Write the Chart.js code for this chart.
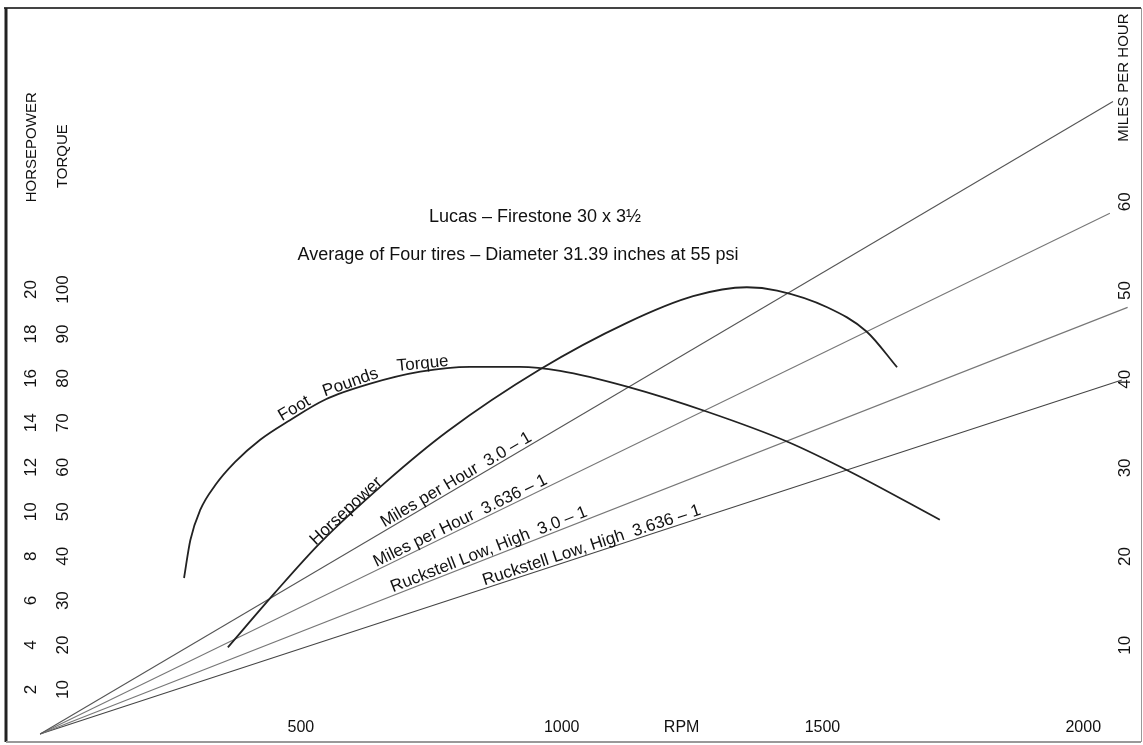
<!DOCTYPE html>
<html>
<head>
<meta charset="utf-8">
<script src="https://cdn.jsdelivr.net/npm/chart.js@4/dist/chart.umd.min.js"></script>
<style>
  html, body { margin: 0; padding: 0; background: #fff; }
</style>
</head>
<body>
<canvas id="chart" width="1143" height="745"></canvas>
<script>
// axis ticks
const rpmTicks = [500, 1000, 1230, 1500, 2000];
const rpmTickLabels = ['500', '1000', 'RPM', '1500', '2000'];
const hpTicks = [2, 4, 6, 8, 10, 12, 14, 16, 18, 20];
const torqueTicks = [10, 20, 30, 40, 50, 60, 70, 80, 90, 100];
const mphTicks = [10, 20, 30, 40, 50, 60];

// engine curves
const torqueRpm = [276, 288, 307, 336, 374, 422, 479, 546, 633, 729, 824, 920, 997, 1127, 1279, 1434, 1553, 1725];
const torqueFtLb = [35.1, 43.6, 50.4, 56.0, 61.2, 66.2, 70.6, 75.2, 78.8, 81.5, 82.6, 82.6, 81.7, 78.1, 72.5, 65.7, 59.0, 48.2];
const hpRpm = [360, 450, 537, 661, 780, 958, 1125, 1252, 1355, 1413, 1509, 1585, 1643];
const hpValues = [3.9, 6.35, 8.6, 11.3, 13.6, 16.4, 18.5, 19.7, 20.1, 19.95, 19.2, 18.1, 16.5];

// road speed lines
const mph30Rpm = [0, 2057];
const mph30 = [0, 71.3];
const mph3636Rpm = [0, 2051];
const mph3636 = [0, 58.7];
const ruck30Rpm = [0, 2085];
const ruck30 = [0, 48.1];
const ruck3636Rpm = [0, 2074];
const ruck3636 = [0, 39.9];

const xy = (xs, ys) => xs.map((x, i) => ({ x: x, y: ys[i] }));

const FONT = "'Liberation Sans', Arial, sans-serif";
const NARROW = "'Liberation Sans Narrow', 'Liberation Sans', Arial, sans-serif";
const INK = '#111';

const lineLabels = [
  { text: 'Foot', ds: 0, rpm: 495, lift: 3 },
  { text: 'Pounds', ds: 0, rpm: 600, lift: 3 },
  { text: 'Torque', ds: 0, rpm: 735, lift: 3 },
  { text: 'Horsepower', ds: 1, rpm: 594, lift: 1 },
  { text: 'Miles per Hour  3.0 – 1', ds: 2, rpm: 805, lift: 3 },
  { text: 'Miles per Hour  3.636 – 1', ds: 3, rpm: 812, lift: 3 },
  { text: 'Ruckstell Low, High  3.0 – 1', ds: 4, rpm: 866, lift: 3 },
  { text: 'Ruckstell Low, High  3.636 – 1', ds: 5, rpm: 1062, lift: 3 }
];

function alongLine(chart, ds, rpm) {
  const pts = chart.getDatasetMeta(ds).data;
  const px = chart.scales.x.getPixelForValue(rpm);
  let i = 1;
  while (i < pts.length - 1 && pts[i].x < px) i++;
  const a = pts[i - 1], b = pts[i];
  const t = (px - a.x) / (b.x - a.x);
  return { x: px, y: a.y + t * (b.y - a.y), angle: Math.atan2(b.y - a.y, b.x - a.x) };
}

const sheetPlugin = {
  id: 'sheet',
  beforeDraw(chart) {
    const ctx = chart.ctx;
    ctx.save();
    ctx.fillStyle = '#fff';
    ctx.fillRect(0, 0, chart.width, chart.height);
    // scanned frame
    ctx.strokeStyle = '#444';
    ctx.lineWidth = 2;
    ctx.beginPath(); ctx.moveTo(4, 8); ctx.lineTo(1141, 8); ctx.stroke();
    ctx.strokeStyle = '#222';
    ctx.lineWidth = 3;
    ctx.beginPath(); ctx.moveTo(6, 8); ctx.lineTo(6, 742); ctx.stroke();
    ctx.strokeStyle = '#999';
    ctx.lineWidth = 2;
    ctx.beginPath(); ctx.moveTo(6, 742); ctx.lineTo(1141, 742); ctx.stroke();
    ctx.lineWidth = 1;
    ctx.beginPath(); ctx.moveTo(1141.5, 8); ctx.lineTo(1141.5, 742); ctx.stroke();
    ctx.restore();
  },
  afterDraw(chart) {
    const ctx = chart.ctx;
    ctx.save();
    ctx.fillStyle = INK;
    // axis titles, same column as the tick labels
    const titles = [
      { text: 'HORSEPOWER', x: chart.scales.hp.right - 14, y: chart.scales.hp.getPixelForValue(26.4) },
      { text: 'TORQUE', x: chart.scales.tq.right - 11, y: chart.scales.tq.getPixelForValue(130) },
      { text: 'MILES PER HOUR', x: chart.scales.mph.left + 11, y: chart.scales.mph.getPixelForValue(74) }
    ];
    ctx.font = '15px ' + NARROW;
    ctx.textAlign = 'center';
    ctx.textBaseline = 'middle';
    titles.forEach(t => {
      ctx.save();
      ctx.translate(t.x, t.y);
      ctx.rotate(-Math.PI / 2);
      ctx.fillText(t.text, 0, 0);
      ctx.restore();
    });
    // heading
    ctx.font = '18px ' + FONT;
    ctx.fillText('Lucas – Firestone 30 x 3½', 535, 217);
    ctx.fillText('Average of Four tires – Diameter 31.39 inches at 55 psi', 518, 255);
    // labels along the curves
    ctx.font = '17px ' + FONT;
    ctx.textBaseline = 'alphabetic';
    lineLabels.forEach(l => {
      const p = alongLine(chart, l.ds, l.rpm);
      ctx.save();
      ctx.translate(p.x, p.y);
      ctx.rotate(p.angle);
      ctx.fillText(l.text, 0, -l.lift);
      ctx.restore();
    });
    ctx.restore();
  }
};

const yTickFont = { family: FONT, size: 17 };
const hiddenGrid = { display: false, drawTicks: false };

new Chart(document.getElementById('chart'), {
  type: 'line',
  data: {
    datasets: [
      { data: xy(torqueRpm, torqueFtLb), yAxisID: 'tq', borderColor: '#222', borderWidth: 1.8, cubicInterpolationMode: 'monotone' },
      { data: xy(hpRpm, hpValues), yAxisID: 'hp', borderColor: '#222', borderWidth: 1.8, cubicInterpolationMode: 'monotone' },
      { data: xy(mph30Rpm, mph30), yAxisID: 'mph', borderColor: '#555', borderWidth: 1.1 },
      { data: xy(mph3636Rpm, mph3636), yAxisID: 'mph', borderColor: '#777', borderWidth: 1.1 },
      { data: xy(ruck30Rpm, ruck30), yAxisID: 'mph', borderColor: '#777', borderWidth: 1.1 },
      { data: xy(ruck3636Rpm, ruck3636), yAxisID: 'mph', borderColor: '#444', borderWidth: 1.1 }
    ]
  },
  options: {
    responsive: false,
    animation: false,
    clip: false,
    elements: { point: { radius: 0 } },
    layout: { padding: { top: 45, left: 0, right: 0, bottom: 0 } },
    plugins: { legend: { display: false }, tooltip: { enabled: false } },
    scales: {
      x: {
        type: 'linear', position: 'bottom', min: 65, max: 2057,
        grid: hiddenGrid, border: { display: false },
        afterFit: s => { s.height = 28; },
        afterBuildTicks: s => { s.ticks = rpmTicks.map(v => ({ value: v })); },
        ticks: {
          autoSkip: false, maxRotation: 0, padding: 1, color: INK,
          font: { family: FONT, size: 16 },
          callback: v => rpmTickLabels[rpmTicks.indexOf(v)]
        }
      },
      hp: {
        type: 'linear', position: 'left', weight: 2, min: 0.765, max: 31.0,
        grid: hiddenGrid, border: { display: false },
        afterFit: s => { s.width = 46; },
        afterBuildTicks: s => { s.ticks = hpTicks.map(v => ({ value: v })); },
        ticks: { minRotation: 90, maxRotation: 90, crossAlign: 'center', padding: 5, color: INK, font: yTickFont }
      },
      tq: {
        type: 'linear', position: 'left', weight: 1, min: 3.826, max: 155,
        grid: hiddenGrid, border: { display: false },
        afterFit: s => { s.width = 28; },
        afterBuildTicks: s => { s.ticks = torqueTicks.map(v => ({ value: v })); },
        ticks: { minRotation: 90, maxRotation: 90, crossAlign: 'center', padding: -3, color: INK, font: yTickFont }
      },
      mph: {
        type: 'linear', position: 'right', min: 1.917, max: 77.68,
        grid: hiddenGrid, border: { display: false },
        afterFit: s => { s.width = 30; },
        afterBuildTicks: s => { s.ticks = mphTicks.map(v => ({ value: v })); },
        ticks: { minRotation: 90, maxRotation: 90, crossAlign: 'center', padding: 3, color: INK, font: yTickFont }
      }
    }
  },
  plugins: [sheetPlugin]
});
</script>
</body>
</html>
